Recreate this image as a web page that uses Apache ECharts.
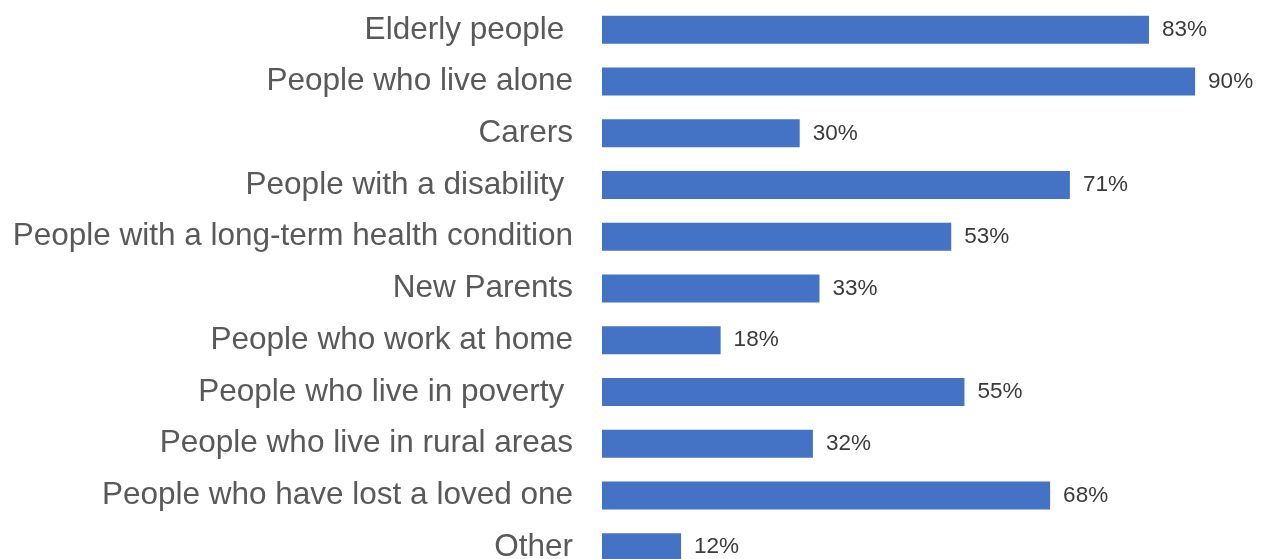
<!DOCTYPE html>
<html>
<head>
<meta charset="utf-8">
<script src="https://cdn.jsdelivr.net/npm/echarts@6/dist/echarts.min.js"></script>
<style>
  html, body { margin: 0; padding: 0; background: #ffffff; overflow: hidden; }
  /* taller than the window: the last row runs past the lower edge */
  #chart { width: 1273px; height: 573px; }
</style>
</head>
<body>
<div id="chart"></div>
<script>
// Groups listed top to bottom (trailing spaces kept as in the source labels)
const categories = [
  'Elderly people ',
  'People who live alone',
  'Carers',
  'People with a disability ',
  'People with a long-term health condition',
  'New Parents',
  'People who work at home',
  'People who live in poverty ',
  'People who live in rural areas',
  'People who have lost a loved one',
  'Other'
];

// Share of respondents naming each group (%)
const shares = [83, 90, 30, 71, 53, 33, 18, 55, 32, 68, 12];

const chart = echarts.init(document.getElementById('chart'), null, { renderer: 'canvas' });

chart.setOption({
  animation: false,
  backgroundColor: '#ffffff',
  grid: { left: 602, right: 12, top: 4, bottom: 0, containLabel: false },
  xAxis: {
    type: 'value',
    min: 0,
    max: 100,
    show: false
  },
  yAxis: {
    type: 'category',
    inverse: true,
    data: categories,
    axisLine: { show: false },
    axisTick: { show: false },
    axisLabel: {
      color: '#595959',
      fontFamily: 'Liberation Sans, Arial, sans-serif',
      fontSize: 31.5,
      margin: 29,
      padding: [10, 0, 0, 0]
    }
  },
  series: [{
    type: 'bar',
    data: shares,
    barWidth: 28,
    itemStyle: { color: '#4472C4' },
    label: {
      show: true,
      position: 'right',
      distance: 13,
      formatter: '{c}%',
      color: '#3a3a3a',
      fontFamily: 'Liberation Sans, Arial, sans-serif',
      fontSize: 22.5
    }
  }]
});
</script>
</body>
</html>
